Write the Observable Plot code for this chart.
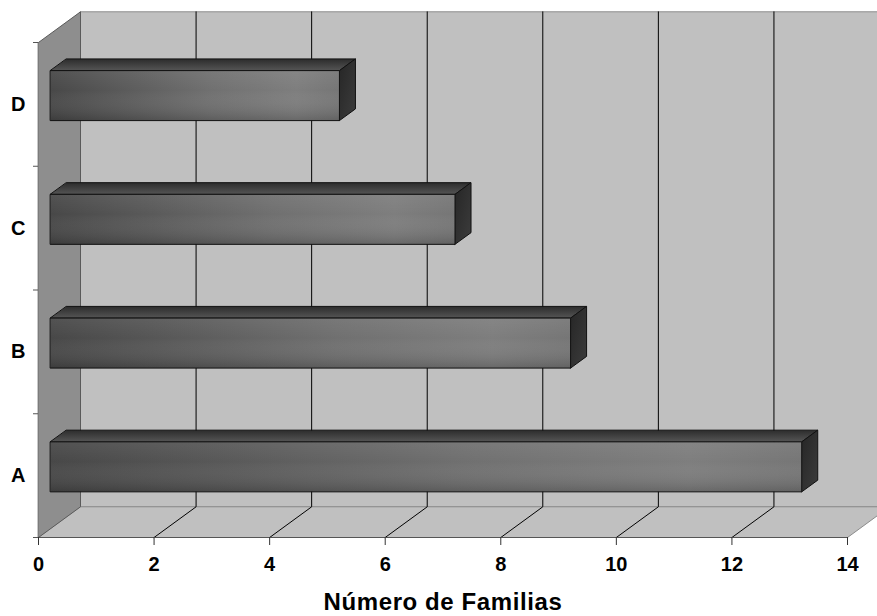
<!DOCTYPE html>
<html><head><meta charset="utf-8">
<script src="https://cdn.jsdelivr.net/npm/d3@7"></script>
<script src="https://cdn.jsdelivr.net/npm/@observablehq/plot@0.6"></script>
<style>body{margin:0;background:#fff;overflow:hidden}</style>
</head><body><div id="chart"></div>
<script>
const categories = ["A", "B", "C", "D"];
const values = [13, 9, 7, 5];
const xTicks = [0, 2, 4, 6, 8, 10, 12, 14];
const gridValues = [2, 4, 6, 8, 10, 12];
const xMax = 14;
const title = "Número de Familias";

// oblique depth projection, expressed in data units
const DX = 0.727, DY = 0.248;
const F1 = 0.286, F2 = 0.667, H = 0.202;
const P = (v, c, f, id) => ({x: v + f * DX, y: c + f * DY, id});
const nCat = categories.length;

const backWall = [P(0,0,1,"b"), P(xMax,0,1,"b"), P(xMax,nCat,1,"b"), P(0,nCat,1,"b")];
const leftWall = [P(0,0,0,"l"), P(0,0,1,"l"), P(0,nCat,1,"l"), P(0,nCat,0,"l")];
const floor = [P(0,0,0,"f"), P(xMax,0,0,"f"), P(xMax,0,1,"f"), P(0,0,1,"f")];
const frontEdge = [P(0,0,0,"e"), P(xMax,0,0,"e")];
const grid = gridValues.flatMap(t => [P(t,0,0,t), P(t,0,1,t), P(t,nCat,1,t)]);
const fronts = [], tops = [], sides = [];
categories.forEach((cat, i) => {
  const v = values[i], c = i + 0.5;
  fronts.push(P(0,c-H,F1,cat), P(v,c-H,F1,cat), P(v,c+H,F1,cat), P(0,c+H,F1,cat));
  tops.push(P(0,c+H,F1,cat), P(v,c+H,F1,cat), P(v,c+H,F2,cat), P(0,c+H,F2,cat));
  sides.push(P(v,c-H,F1,cat), P(v,c-H,F2,cat), P(v,c+H,F2,cat), P(v,c+H,F1,cat));
});

const poly = (data, o) => Plot.line(data, {x: "x", y: "y", z: "id", curve: "linear-closed", ...o});

const chart = Plot.plot({
  width: 877, height: 616,
  marginLeft: 38, marginRight: 30, marginTop: 42, marginBottom: 79,
  x: {domain: [0, xMax]},
  y: {domain: [0, nCat]},
  style: {fontFamily: "'Liberation Sans', Arial, sans-serif", background: "#fff", color: "#000"},
  marks: [
    poly(backWall, {fill: "#c0c0c0", stroke: "#8c8c8c", strokeWidth: 1}),
    poly(floor, {fill: "#c0c0c0", stroke: "#8c8c8c", strokeWidth: 1}),
    poly(leftWall, {fill: "#8e8e8e", stroke: "#5a5a5a", strokeWidth: 1}),
    Plot.line(grid, {x: "x", y: "y", z: "id", stroke: "#000", strokeWidth: 1}),
    Plot.line(frontEdge, {x: "x", y: "y", z: "id", stroke: "#555", strokeWidth: 1.2}),
    poly(tops, {fill: "url(#gTop)", stroke: "#111", strokeWidth: 1}),
    poly(sides, {fill: "url(#gSide)", stroke: "#111", strokeWidth: 1}),
    poly(fronts, {fill: "url(#gFront)", stroke: "none"}),
    poly(fronts, {fill: "url(#gFrontV)", stroke: "#111", strokeWidth: 1}),
    Plot.axisX({ticks: xTicks, tickSize: 8, tickPadding: 11, fontSize: 20, fontWeight: "bold", label: null, stroke: "#333"}),
    Plot.axisY({ticks: d3.range(nCat + 1), tickSize: 5, tickFormat: () => "", label: null, stroke: "#555"}),
    Plot.axisY({ticks: categories.map((d, i) => i + 0.5), tickFormat: v => categories[Math.floor(v)], tickSize: 0, tickPadding: 13, fontSize: 20, fontWeight: "bold", label: null}),
    Plot.text([title], {text: d => d, frameAnchor: "bottom", dy: 65, lineAnchor: "middle", fontSize: 24, fontWeight: "bold"})
  ]
});

const svg = d3.select(chart);
const defs = svg.insert("defs", ":first-child");
function grad(id, x2, y2, stops) {
  const g = defs.append("linearGradient").attr("id", id)
    .attr("x1", 0).attr("y1", 0).attr("x2", x2).attr("y2", y2);
  stops.forEach(([o, c, op]) => g.append("stop").attr("offset", o).attr("stop-color", c).attr("stop-opacity", op ?? 1));
}
grad("gFront", 1, 0, [[0, "#484848"], [0.55, "#707070"], [0.85, "#7e7e7e"], [1, "#767676"]]);
grad("gFrontV", 0, 1, [[0, "#ffffff", 0.06], [0.4, "#ffffff", 0.0], [1, "#000000", 0.18]]);
grad("gTop", 0, 1, [[0, "#2c2c2c"], [1, "#555555"]]);
grad("gSide", 1, 1, [[0, "#262626"], [1, "#3c3c3c"]]);
svg.selectAll("text").filter(function () { return this.textContent === title; }).attr("letter-spacing", "0.6px");

document.getElementById("chart").appendChild(chart);
</script>
</body></html>
